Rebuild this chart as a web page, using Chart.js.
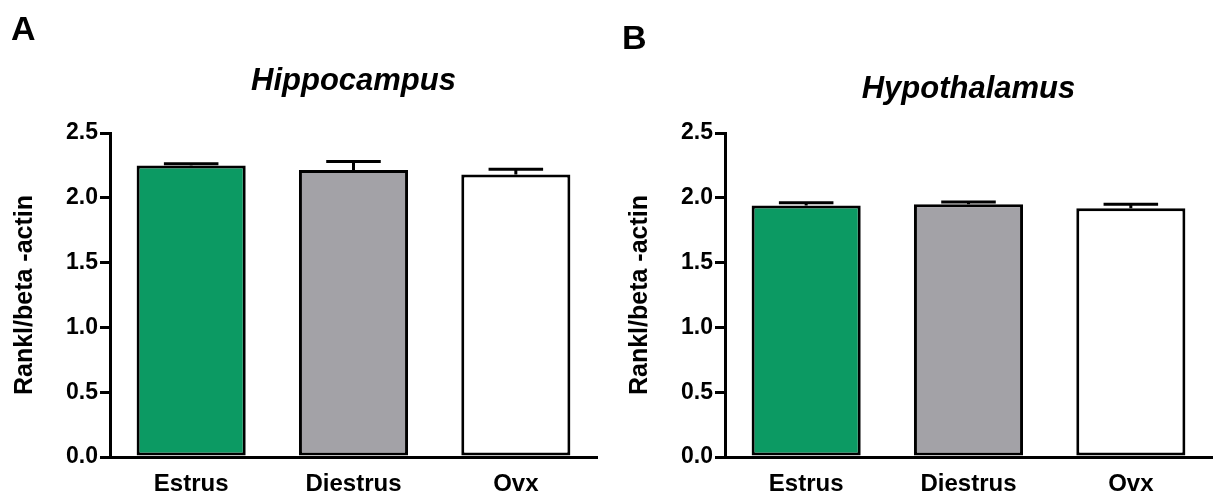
<!DOCTYPE html>
<html>
<head>
<meta charset="utf-8">
<script src="https://cdn.jsdelivr.net/npm/chart.js@4.4.1/dist/chart.umd.min.js"></script>
<style>
  html, body { margin: 0; padding: 0; background: #fff; overflow: hidden; }
  body { width: 1213px; height: 498px; position: relative; }
  .panel { position: absolute; top: 0; width: 615px; height: 498px; }
  #panelA { left: 0; }
  #panelB { left: 615px; }
</style>
</head>
<body>
<div class="panel" id="panelA"><canvas id="chartA"></canvas></div>
<div class="panel" id="panelB"><canvas id="chartB"></canvas></div>
<script>
// data
const categories = ["Estrus", "Diestrus", "Ovx"];
const hippoMeans = [2.25, 2.215, 2.18];
const hippoSem = [0.012, 0.065, 0.04];
const hypoMeans = [1.94, 1.95, 1.92];
const hypoSem = [0.022, 0.018, 0.03];
const yTicks = [0, 0.5, 1.0, 1.5, 2.0, 2.5];

const FONT = "'Liberation Sans', Arial, Helvetica, sans-serif";
const barColors = ["#0c9a63", "#a3a2a7", "#ffffff"];

// error bars (mean + SEM, upper only) and panel text
const extras = {
    id: "extras",
    afterDatasetsDraw(chart, args, opts) {
        const ctx = chart.ctx;
        const y = chart.scales.y;
        const meta = chart.getDatasetMeta(0);
        ctx.save();
        ctx.strokeStyle = "#000";
        ctx.lineWidth = 3;
        meta.data.forEach((bar, i) => {
            const top = y.getPixelForValue(opts.means[i]);
            const hi = y.getPixelForValue(opts.means[i] + opts.sem[i]);
            const half = bar.width * 0.25;
            ctx.beginPath();
            ctx.moveTo(bar.x, top);
            ctx.lineTo(bar.x, hi);
            ctx.moveTo(bar.x - half, hi);
            ctx.lineTo(bar.x + half, hi);
            ctx.stroke();
        });
        ctx.restore();
    },
    afterDraw(chart, args, opts) {
        const ctx = chart.ctx;
        const area = chart.chartArea;
        ctx.save();
        ctx.fillStyle = "#000";
        ctx.textBaseline = "alphabetic";
        ctx.font = "bold 34px " + FONT;
        ctx.textAlign = "left";
        ctx.fillText(opts.letter, opts.letterX, opts.letterY);
        ctx.font = "italic bold 31px " + FONT;
        ctx.textAlign = "center";
        ctx.fillText(opts.title, (area.left + area.right) / 2, opts.titleY);
        ctx.restore();
    }
};

function makeChart(id, means, sem, letter, title, letterX, letterY, titleY) {
    return new Chart(document.getElementById(id), {
        type: "bar",
        data: {
            labels: categories,
            datasets: [{
                data: means,
                backgroundColor: barColors,
                borderColor: "#000",
                borderWidth: 3,
                borderSkipped: false,
                barPercentage: 0.672,
                categoryPercentage: 1.0
            }]
        },
        options: {
            responsive: true,
            maintainAspectRatio: false,
            animation: false,
            layout: { padding: { top: 133, right: 18, bottom: 0, left: 0 } },
            plugins: {
                legend: { display: false },
                tooltip: { enabled: false },
                extras: { means: means, sem: sem, letter: letter, title: title,
                          letterX: letterX, letterY: letterY, titleY: titleY }
            },
            scales: {
                x: {
                    grid: { display: false, drawTicks: false },
                    border: { display: true, color: "#000", width: 3 },
                    ticks: {
                        color: "#000",
                        padding: 13,
                        font: { family: FONT, size: 24, weight: "bold" }
                    },
                    afterFit: s => { s.height = 41; }
                },
                y: {
                    min: 0,
                    max: 2.5,
                    afterBuildTicks: s => { s.ticks = yTicks.map(v => ({ value: v })); },
                    grid: {
                        display: true,
                        drawOnChartArea: false,
                        drawTicks: true,
                        tickLength: 10,
                        color: "#000",
                        lineWidth: 3
                    },
                    border: { display: true, color: "#000", width: 3 },
                    ticks: {
                        color: "#000",
                        padding: 2,
                        font: { family: FONT, size: 23, weight: "bold" },
                        callback: v => Number(v).toFixed(1)
                    },
                    title: {
                        display: true,
                        text: "Rankl/beta -actin",
                        color: "#000",
                        padding: { top: 10, bottom: 0 },
                        font: { family: FONT, size: 25, weight: "bold" }
                    },
                    afterFit: s => { s.width = 110; }
                }
            }
        },
        plugins: [extras]
    });
}

makeChart("chartA", hippoMeans, hippoSem, "A", "Hippocampus", 11, 40, 90);
makeChart("chartB", hypoMeans, hypoSem, "B", "Hypothalamus", 7, 49, 98);
</script>
</body>
</html>
